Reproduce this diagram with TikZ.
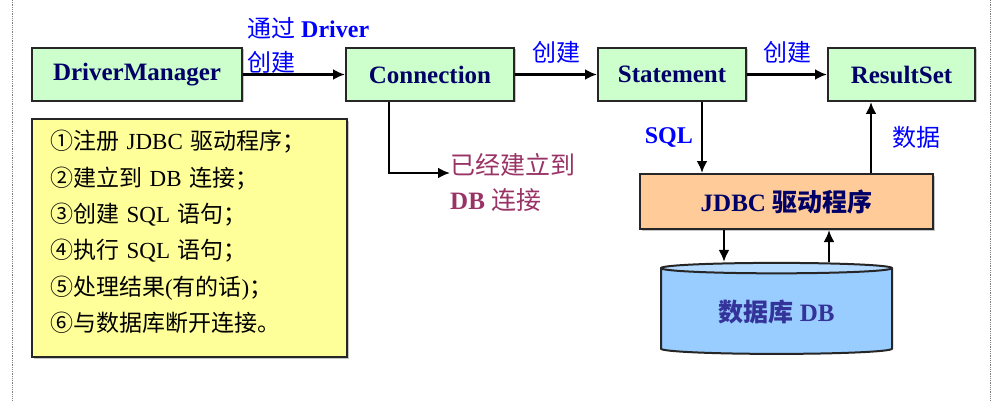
\documentclass[tikz,border=0pt]{standalone}
\usepackage{fontspec}
\setmainfont{Liberation Serif}
\newfontfamily\cjk{Noto Sans CJK SC}
\usetikzlibrary{arrows.meta,shapes.geometric,shadows,positioning}

\newcommand{\zh}[1]{{\cjk #1}}

\definecolor{boxgreen}{RGB}{204,255,204}
\definecolor{boxyellow}{RGB}{255,255,153}
\definecolor{boxorange}{RGB}{255,204,153}
\definecolor{dbblue}{RGB}{153,204,255}
\definecolor{dbtop}{RGB}{180,218,255}
\definecolor{navytext}{RGB}{0,0,102}
\definecolor{dbtext}{RGB}{51,51,153}
\definecolor{labelblue}{RGB}{0,0,255}
\definecolor{plum}{RGB}{153,51,102}

\tikzset{
  boxshadow/.style={drop shadow={shadow xshift=1.5pt,shadow yshift=-1.5pt,opacity=.45,fill=black!50}},
  classbox/.style={draw=black!85, line width=2pt, fill=boxgreen, minimum height=53pt,
    inner sep=0pt, text=navytext, font=\bfseries\fontsize{25}{30}\selectfont, boxshadow},
  stepbox/.style={draw=black!85, line width=2pt, fill=boxyellow, minimum height=238pt,
    text width=279pt, inner xsep=18pt, align=left,
    font=\fontsize{23}{36.3}\selectfont, boxshadow},
  drvbox/.style={draw=black!85, line width=2pt, fill=boxorange, minimum width=293pt,
    minimum height=55pt, inner sep=0pt, text=navytext, font=\bfseries\fontsize{25}{30}\selectfont, boxshadow},
  dbcyl/.style={cylinder, shape border rotate=90, draw=black!85, line width=2pt,
    cylinder uses custom fill, cylinder body fill=dbblue, cylinder end fill=dbtop,
    minimum width=231pt, minimum height=91pt, aspect=0.09, inner sep=0pt,
    text=dbtext, font=\bfseries\fontsize{25}{30}\selectfont},
  lbl/.style={text=labelblue, font=\fontsize{24}{34}\selectfont, inner sep=0pt},
  link/.style={->, line width=2.4pt},
}

\begin{document}
\begin{tikzpicture}[x=1pt,y=-1pt,>={Latex[length=12pt,width=11pt]}]
\useasboundingbox (0,0) rectangle (992,401);
\draw[gray, densely dotted, line width=.8pt] (12,0) -- (12,401);
\draw[gray, densely dotted, line width=.8pt] (990,0) -- (990,401);

% objects of the JDBC api
\node[classbox, minimum width=210pt] (dm) at (137,74.5) {DriverManager};
\node[classbox, minimum width=168pt] (conn) at (430,74.5) {Connection};
\node[classbox, minimum width=148pt] (stmt) at (672,74.5) {Statement};
\node[classbox, minimum width=147pt] (rs) at (901.5,74.5) {ResultSet};

% the six steps
\node[stepbox] (steps) at (189.5,238) {\zh{①注册} JDBC \zh{驱动程序；}\\
  \zh{②建立到} DB \zh{连接；}\\
  \zh{③创建} SQL \zh{语句；}\\
  \zh{④执行} SQL \zh{语句；}\\
  \zh{⑤处理结果}(\zh{有的话})\zh{；}\\
  \zh{⑥与数据库断开连接。}\\[-22pt]\mbox{}};

\node[drvbox] (jdbc) at (786.5,201.5) {JDBC \zh{驱动程序}};
\node[dbcyl] (db) at (776.5,311.5) {\zh{数据库} DB};

% arrows
\draw[link] (dm) -- (conn);
\node[lbl, anchor=west, align=left] (drvlbl) at (247,45) {\zh{通过} \textbf{Driver}\\\zh{创建}};
\draw[link] (conn) -- node[lbl, above=10pt]{\zh{创建}} (stmt);
\draw[link] (stmt) -- node[lbl, above=10pt]{\zh{创建}} (rs);

\coordinate (estab) at (450,173);
\draw[link] ([xshift=-41pt]conn.south) |- (estab);
\node[anchor=west, align=left, inner sep=0pt, text=plum, font=\fontsize{25}{35}\selectfont]
  (estabtxt) at (450,182.5) {\zh{已经建立到}\\\textbf{DB} \zh{连接}};

\draw[link] ([xshift=30pt]stmt.south) coordinate (sqltop) -- (sqltop |- jdbc.north)
  node[lbl, midway, left=8pt, font=\bfseries\fontsize{24}{30}\selectfont]{SQL};
\draw[link] ([xshift=-30.5pt]rs.south |- jdbc.north) -- ([xshift=-30.5pt]rs.south)
  node[lbl, midway, right=20pt]{\zh{数据}};

\draw[link] ([xshift=-62.5pt]jdbc.south) coordinate (qdown) -- (qdown |- db.north);
\draw[link] ([xshift=42.5pt]jdbc.south |- db.north) -- ([xshift=42.5pt]jdbc.south);

\end{tikzpicture}
\end{document}
